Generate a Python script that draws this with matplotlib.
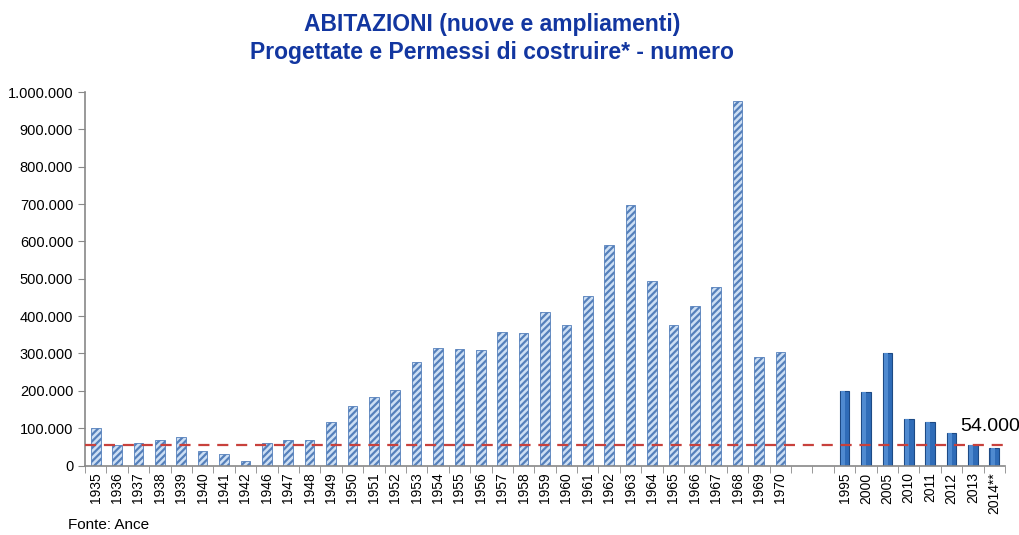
import matplotlib.pyplot as plt
import numpy as np
from matplotlib.ticker import FuncFormatter, MultipleLocator, FixedLocator

plt.rcParams['font.family'] = ['Liberation Sans', 'DejaVu Sans']
plt.rcParams['hatch.linewidth'] = 1.6

# --- data: housing units by year (two blank slots separate the series) ---
years_old = ['1935', '1936', '1937', '1938', '1939', '1940', '1941', '1942',
             '1946', '1947', '1948', '1949', '1950', '1951', '1952', '1953',
             '1954', '1955', '1956', '1957', '1958', '1959', '1960', '1961',
             '1962', '1963', '1964', '1965', '1966', '1967', '1968', '1969', '1970']
values_old = [101000, 56000, 60000, 67000, 75000, 38000, 31000, 13000,
              61000, 69000, 67000, 117000, 159000, 184000, 202000, 276000,
              314000, 311000, 308000, 358000, 356000, 412000, 375000, 455000,
              590000, 698000, 493000, 377000, 428000, 479000, 977000, 290000, 305000]
gap_slots = ['', '']
years_new = ['1995', '2000', '2005', '2010', '2011', '2012', '2013', '2014**']
values_new = [200000, 198000, 302000, 124000, 116000, 87000, 56000, 48000]
ref_level = 54000

labels = years_old + gap_slots + years_new
n = len(labels)
x_old = np.arange(len(years_old))
x_new = np.arange(len(years_old) + len(gap_slots), n)

fig = plt.figure(figsize=(10.2, 5.35), dpi=100)
ax = fig.add_axes([85 / 1020, 69.5 / 535, 920 / 1020, 373.5 / 535])

# hatched bars for the historical series
ax.bar(x_old, values_old, width=0.45, color='#cddff4', edgecolor='#5580bb',
       hatch='/////', linewidth=0.6)

# solid bars for the recent permits
ax.bar(x_new, values_new, width=0.45, color='#2f6cb8', edgecolor='#1d4a85',
       linewidth=0.8)
ax.bar(x_new - 0.08, values_new, width=0.18, color='#4f8ad0', linewidth=0)

# reference line
ax.axhline(ref_level, color='#c8413c', linestyle=(0, (5, 3.5)), linewidth=1.6, zorder=3)
ax.text(n - 1.2, ref_level + 28000, '54.000', fontsize=14, ha='center', va='bottom')

ax.set_xlim(-0.5, n - 0.5)
ax.set_ylim(0, 1000000)
ax.yaxis.set_major_locator(MultipleLocator(100000))
ax.yaxis.set_major_formatter(FuncFormatter(lambda v, p: f'{int(v):,}'.replace(',', '.')))

ax.set_xticks(np.arange(n))
ax.set_xticklabels(labels, rotation=90, fontsize=10)
ax.tick_params(axis='x', which='major', length=0, pad=5)
ax.xaxis.set_minor_locator(FixedLocator(np.arange(-0.5, n, 1.0)))
ax.tick_params(axis='x', which='minor', length=5, color='#888888')
ax.tick_params(axis='y', labelsize=10.5, length=5, color='#888888')

for side in ['top', 'right']:
    ax.spines[side].set_visible(False)
for side in ['left', 'bottom']:
    ax.spines[side].set_color('#888888')
    ax.spines[side].set_linewidth(1.2)

title_color = '#1236a0'
fig.text(492 / 1020, 1 - 24 / 535, 'ABITAZIONI (nuove e ampliamenti)', ha='center',
         va='center', fontsize=16.5, fontweight='bold', color=title_color)
fig.text(492 / 1020, 1 - 52 / 535, 'Progettate e Permessi di costruire* - numero',
         ha='center', va='center', fontsize=16.5, fontweight='bold', color=title_color)
fig.text(68 / 1020, 1 - 525 / 535, 'Fonte: Ance', ha='left', va='center', fontsize=11)

fig.savefig('out.png', dpi=100)
